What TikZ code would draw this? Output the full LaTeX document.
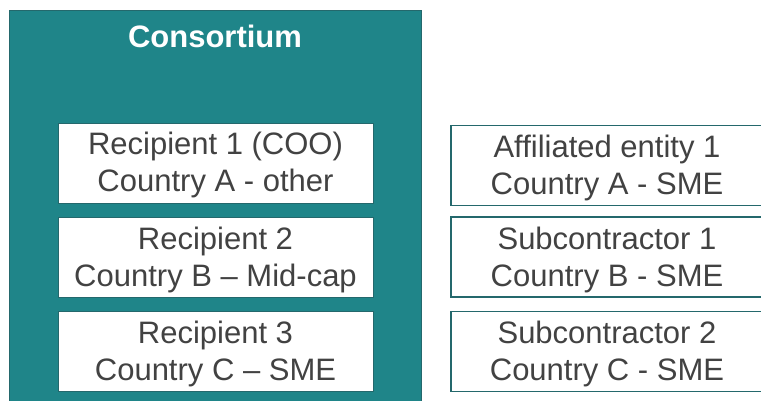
\documentclass[tikz,border=0pt]{standalone}
\usepackage{fontspec}
\setmainfont{Liberation Sans}
\definecolor{consteal}{RGB}{31,133,137}
\definecolor{tealedge}{RGB}{36,104,108}
\definecolor{txtgray}{RGB}{66,66,66}
\newcommand{\twoln}[2]{\rule{0pt}{30pt}#1\\#2\rule[-9pt]{0pt}{9pt}}
\begin{document}
\begin{tikzpicture}[x=1pt,y=-1pt,
  entity/.style={draw=tealedge, fill=white, inner sep=0pt, outer sep=0pt,
    minimum height=80pt, anchor=north west, align=center,
    font=\fontsize{31}{37}\selectfont, text=txtgray},
  member/.style={entity, line width=0.8pt, minimum width=315pt},
  outside/.style={entity, line width=1.3pt, minimum width=312pt}]
\useasboundingbox (0,0) rectangle (761,401);
\clip (0,0) rectangle (761,401);
\node[fill=consteal, draw=tealedge, line width=0.6pt, inner sep=0pt, anchor=north west,
  minimum width=412pt, minimum height=400pt] (cons) at (9,10) {};
\node[anchor=base, text=white, font=\fontsize{31}{37}\selectfont\bfseries] (title) at (215,48) {Consortium};
\node[member] (r1) at (58,123) {\twoln{Recipient 1 (COO)}{Country A - other}};
\node[member] (r2) at (58,217) {\twoln{Recipient 2}{Country B – Mid-cap}};
\node[member] (r3) at (58,311.5) {\twoln{Recipient 3}{Country C – SME}};
\node[outside] (a1) at (451,125.5) {\twoln{Affiliated entity 1}{Country A - SME}};
\node[outside] (s1) at (451,217) {\twoln{Subcontractor 1}{Country B - SME}};
\node[outside] (s2) at (451,311.5) {\twoln{Subcontractor 2}{Country C - SME}};
\end{tikzpicture}
\end{document}
